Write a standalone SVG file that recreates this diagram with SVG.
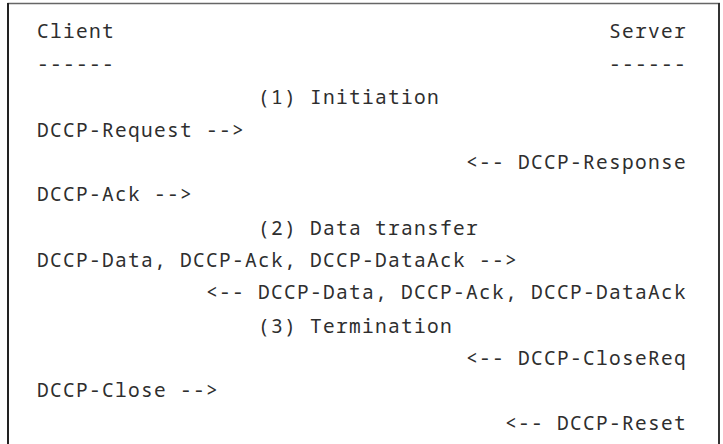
<svg xmlns="http://www.w3.org/2000/svg" width="723" height="444" viewBox="0 0 723 444">
<style>
text{font-family:"Noto Sans Mono","DejaVu Sans Mono","Liberation Mono",monospace;font-size:19.5px;letter-spacing:1.3px;fill:#2e2e2e;white-space:pre}
</style>
<rect width="723" height="444" fill="#fff"/>
<g id="frame">
<line x1="7.5" y1="3.5" x2="720" y2="3.5" stroke="#666" stroke-width="1.4"/>
<line x1="8" y1="3" x2="8" y2="444" stroke="#222" stroke-width="2"/>
<line x1="719" y1="3" x2="719" y2="444" stroke="#333" stroke-width="2"/>
</g>
<g id="client"><text x="37" y="38">Client</text><text x="37" y="71">------</text></g>
<g id="server"><text x="609" y="38">Server</text><text x="609" y="71">------</text></g>
<g id="phase1"><text x="258" y="104">(1) Initiation</text></g>
<g id="connectors">
<text x="37" y="137">DCCP-Request --&gt;</text>
<text x="466" y="169">&lt;-- DCCP-Response</text>
<text x="37" y="201">DCCP-Ack --&gt;</text>
<text x="37" y="267">DCCP-Data, DCCP-Ack, DCCP-DataAck --&gt;</text>
<text x="206" y="299">&lt;-- DCCP-Data, DCCP-Ack, DCCP-DataAck</text>
<text x="466" y="365">&lt;-- DCCP-CloseReq</text>
<text x="37" y="397">DCCP-Close --&gt;</text>
<text x="505" y="430">&lt;-- DCCP-Reset</text>
</g>
<g id="phase2"><text x="258" y="235">(2) Data transfer</text></g>
<g id="phase3"><text x="258" y="333">(3) Termination</text></g>
</svg>
